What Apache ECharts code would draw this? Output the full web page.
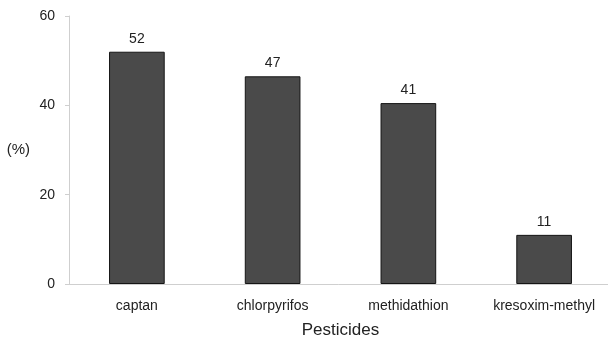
<!DOCTYPE html>
<html><head><meta charset="utf-8">
<script src="https://cdn.jsdelivr.net/npm/echarts@6/dist/echarts.min.js"></script>
<style>html,body{margin:0;padding:0;background:#fff}#c{width:608px;height:340px}</style>
</head><body><div id="c"></div>
<script>
const categories = ['captan', 'chlorpyrifos', 'methidathion', 'kresoxim-methyl'];
const values = [52, 46.5, 40.5, 11];
const yTicks = [0, 20, 40, 60];

const chart = echarts.init(document.getElementById('c'));
chart.setOption({
  animation: false,
  textStyle: { fontFamily: 'Liberation Sans, Arial, sans-serif' },
  grid: { left: 69, right: -4, top: 16, bottom: 56, containLabel: false, outerBoundsMode: 'none' },
  xAxis: {
    type: 'category', data: categories,
    name: 'Pesticides', nameLocation: 'middle', nameGap: 38,
    nameTextStyle: { fontSize: 17, color: '#222' },
    axisLine: { lineStyle: { color: '#cfcfcf' } },
    axisTick: { inside: true, length: 4, lineStyle: { color: '#cfcfcf' } },
    axisLabel: { fontSize: 14, color: '#222', margin: 15 }
  },
  yAxis: {
    type: 'value', min: 0, max: 60, interval: 20,
    name: '(%)', nameLocation: 'middle', nameGap: 39, nameRotate: 0,
    nameTextStyle: { fontSize: 15, color: '#222', padding: [4, 0, 0, 0] },
    axisLine: { show: true, lineStyle: { color: '#cfcfcf' } },
    axisTick: { show: true, length: 4, lineStyle: { color: '#cfcfcf' } },
    splitLine: { show: false },
    axisLabel: { fontSize: 14, color: '#222', margin: 14,
      formatter: v => yTicks.includes(v) ? String(v) : '' }
  },
  series: [{
    type: 'bar', data: values, barWidth: '41%',
    itemStyle: { color: '#4a4a4a', borderColor: '#151515', borderWidth: 1 },
    label: { show: true, position: 'top', distance: 6, fontSize: 14, color: '#222',
      formatter: p => String(Math.round(p.value)) }
  }]
});
</script></body></html>
